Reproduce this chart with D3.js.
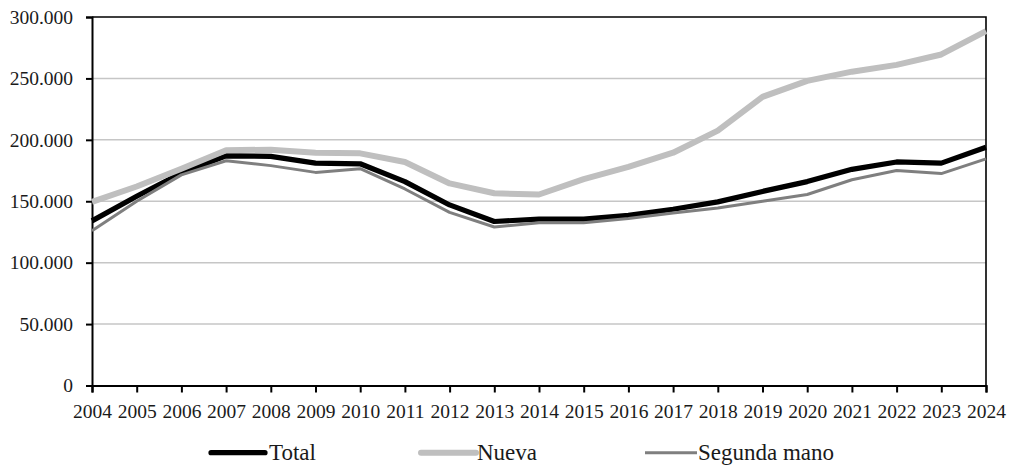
<!DOCTYPE html>
<html>
<head>
<meta charset="utf-8">
<script src="https://cdn.jsdelivr.net/npm/d3@7"></script>
<style>
  html, body { margin: 0; padding: 0; background: #fff; }
  svg { display: block; }
</style>
</head>
<body>
<svg id="chart" width="1009" height="469"></svg>
<script>
// Years on the horizontal axis
const years = [2004, 2005, 2006, 2007, 2008, 2009, 2010, 2011, 2012, 2013, 2014,
               2015, 2016, 2017, 2018, 2019, 2020, 2021, 2022, 2023, 2024];

// Series values
const total = [134000, 154000, 173000, 187000, 186500, 181000, 180500, 166000, 147000, 133500, 135500,
               135500, 138500, 143500, 149500, 158000, 166000, 176000, 182000, 181000, 194000];
const nueva = [149500, 162000, 176500, 191500, 192000, 189500, 189000, 182000, 164500, 156500, 155500,
               168000, 178000, 189500, 207500, 235000, 248000, 255500, 261000, 269500, 288500];
const segunda = [126000, 150000, 171500, 183000, 179000, 173500, 176500, 160000, 141000, 129000, 132500,
                 132500, 136000, 140500, 144500, 150000, 155500, 167500, 175000, 172500, 184500];

// Axis ticks
const yTicks = [0, 50000, 100000, 150000, 200000, 250000, 300000];
const seriesNames = ["Total", "Nueva", "Segunda mano"];

const FONT = "'Liberation Serif', Tinos, 'Times New Roman', serif";
const svg = d3.select("#chart");
const plot = { left: 92, right: 986, top: 17, bottom: 385.5 };

const x = d3.scaleLinear().domain([years[0], years[years.length - 1]]).range([plot.left, plot.right]);
const y = d3.scaleLinear().domain([0, 300000]).range([plot.bottom, plot.top]);

const fmt = v => v === 0 ? "0" : d3.format(",")(v).replace(/,/g, ".");

// Horizontal gridlines
svg.append("g")
  .selectAll("line")
  .data(yTicks.filter(t => t > 0 && t < 300000))
  .join("line")
  .attr("x1", plot.left).attr("x2", plot.right)
  .attr("y1", d => y(d)).attr("y2", d => y(d))
  .attr("stroke", "#c6c6c6").attr("stroke-width", 1.5);

// Frame: top and right
svg.append("path")
  .attr("d", `M${plot.left},${y(300000)}H${plot.right}V${plot.bottom}`)
  .attr("fill", "none").attr("stroke", "#000").attr("stroke-width", 1.6);

// Y axis
const yAxis = svg.append("g")
  .attr("transform", `translate(${plot.left},0)`)
  .call(d3.axisLeft(y).tickValues(yTicks).tickFormat(fmt).tickSize(6).tickPadding(13));
yAxis.select(".domain").attr("stroke", "#000").attr("stroke-width", 2);
yAxis.selectAll(".tick line").attr("stroke", "#000").attr("stroke-width", 2);
yAxis.selectAll(".tick text")
  .style("font-family", FONT)
  .style("font-size", "19.5px").attr("fill", "#1a1a1a");

// X axis
const xAxis = svg.append("g")
  .attr("transform", `translate(0,${plot.bottom})`)
  .call(d3.axisBottom(x).tickValues(years).tickFormat(d3.format("d")).tickSize(7).tickPadding(11.5));
xAxis.select(".domain").attr("stroke", "#000").attr("stroke-width", 2.2);
xAxis.selectAll(".tick line").attr("stroke", "#000").attr("stroke-width", 2);
xAxis.selectAll(".tick text")
  .style("font-family", FONT)
  .style("font-size", "19.5px").attr("fill", "#1a1a1a");

// Series lines
const series = [
  { name: seriesNames[0], values: total,   color: "#000000", width: 5.2, cap: "round" },
  { name: seriesNames[1], values: nueva,   color: "#bfbfbf", width: 6,   cap: "round" },
  { name: seriesNames[2], values: segunda, color: "#7f7f7f", width: 3,   cap: "butt" }
];

const line = d3.line().x((d, i) => x(years[i])).y(d => y(d));

svg.append("g")
  .selectAll("path")
  .data(series)
  .join("path")
  .attr("d", d => line(d.values))
  .attr("fill", "none")
  .attr("stroke", d => d.color)
  .attr("stroke-width", d => d.width)
  .attr("stroke-linejoin", "round");

// Legend
const legendPos = [
  { x1: 211, x2: 265, tx: 269 },
  { x1: 421, x2: 476, tx: 477 },
  { x1: 645, x2: 697, tx: 698 }
];
const legendY = 452.7;
const lg = svg.append("g");
series.forEach((s, i) => {
  const p = legendPos[i];
  lg.append("line")
    .attr("x1", p.x1).attr("x2", p.x2)
    .attr("y1", legendY).attr("y2", legendY)
    .attr("stroke", s.color).attr("stroke-width", s.width)
    .attr("stroke-linecap", s.cap);
  lg.append("text")
    .attr("x", p.tx).attr("y", 460)
    .style("font-family", FONT)
    .style("font-size", "23px")
    .attr("fill", "#1a1a1a")
    .text(s.name);
});
</script>
</body>
</html>
